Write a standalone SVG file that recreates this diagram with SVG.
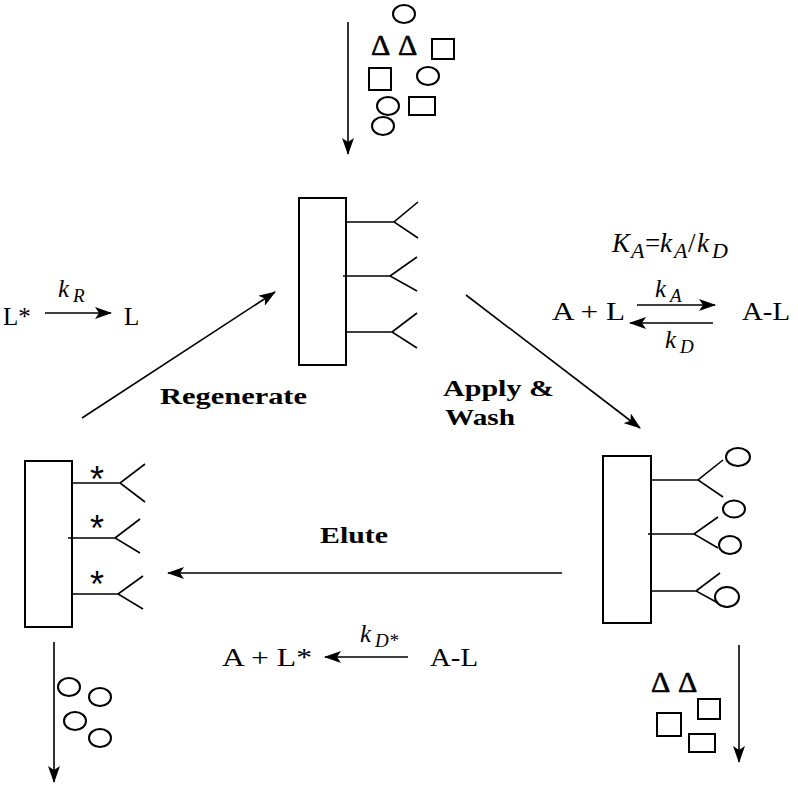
<svg xmlns="http://www.w3.org/2000/svg" width="798" height="788" viewBox="0 0 798 788">
<defs>
<marker id="ah" markerWidth="17" markerHeight="12" refX="16" refY="6" orient="auto" markerUnits="userSpaceOnUse">
<path d="M0,0 L17,6 L0,12 L4,6 Z" fill="#000"/>
</marker>
<style>
.ln{stroke:#000;stroke-width:1.6;fill:none}
.ar{stroke:#000;stroke-width:1.6;fill:none;marker-end:url(#ah)}
.box{stroke:#000;stroke-width:2;fill:#fff}
.sh{stroke:#000;stroke-width:2;fill:none}
.t{font-family:"Liberation Serif","Times New Roman",serif;font-size:25px;fill:#000}
.i{font-style:italic}
.s{font-size:19px}
.k{font-size:27px}
.ks{font-size:22px}
.b{font-family:"Liberation Serif","Times New Roman",serif;font-weight:bold;font-size:23px;fill:#000}
.d{font-family:"Liberation Serif","Times New Roman",serif;font-size:30px;fill:#000;stroke:#000;stroke-width:0.6}
.star{font-family:"Liberation Sans",Arial,sans-serif;font-size:36px;fill:#000}
</style>
</defs>
<rect width="798" height="788" fill="#fff"/>

<g id="connectors">
<line class="ar" x1="348" y1="22" x2="348" y2="154"/>
<line class="ar" x1="82" y1="418" x2="275" y2="292"/>
<line class="ar" x1="466" y1="295" x2="640" y2="428"/>
<line class="ar" x1="562" y1="573" x2="168" y2="573"/>
<line class="ar" x1="54" y1="642" x2="54" y2="782"/>
<line class="ar" x1="739" y1="645" x2="739" y2="762"/>
</g>

<g id="feed-mixture">
<ellipse class="sh" cx="404" cy="14" rx="11" ry="9"/>
<text class="d" x="371" y="55">Δ</text>
<text class="d" x="398" y="55">Δ</text>
<rect class="sh" x="432" y="39" width="22" height="20"/>
<rect class="sh" x="369" y="68" width="22" height="22"/>
<ellipse class="sh" cx="428" cy="76" rx="11" ry="9"/>
<ellipse class="sh" cx="388" cy="106" rx="11" ry="9"/>
<rect class="sh" x="409" y="97" width="26" height="18"/>
<ellipse class="sh" cx="383" cy="126" rx="11" ry="9"/>
</g>

<g id="column-top">
<rect class="box" x="299" y="198" width="47" height="167"/>
<path class="ln" d="M346,222 H394 M418,202 L394,222 L418,238"/>
<path class="ln" d="M343,276 H390 M417,257 L390,276 L417,291"/>
<path class="ln" d="M346,332 H392 M417,313 L392,332 L417,348"/>
</g>

<g id="column-right">
<rect class="box" x="603" y="456" width="48" height="167"/>
<path class="ln" d="M651,480 H698 M723,460 L698,480 L723,497"/>
<path class="ln" d="M648,534 H694 M718,517 L694,534 L718,548"/>
<path class="ln" d="M651,591 H696 M720,573 L696,591 L718,603"/>
<ellipse class="sh" cx="738" cy="457" rx="12" ry="9"/>
<ellipse class="sh" cx="734" cy="509" rx="11" ry="8.5"/>
<ellipse class="sh" cx="730" cy="545" rx="11" ry="9"/>
<ellipse class="sh" cx="727" cy="597" rx="12" ry="10"/>
</g>

<g id="column-left">
<rect class="box" x="25" y="461" width="47" height="166"/>
<path class="ln" d="M72,483 H120 M145,464 L120,483 L145,502"/>
<path class="ln" d="M68,538 H115 M140,519 L115,538 L140,553"/>
<path class="ln" d="M72,594 H118 M143,576 L118,594 L143,609"/>
<text class="star" x="90" y="492">*</text>
<text class="star" x="90" y="541">*</text>
<text class="star" x="90" y="597">*</text>
</g>

<g id="eluate">
<ellipse class="sh" cx="69" cy="687" rx="11" ry="9"/>
<ellipse class="sh" cx="100" cy="697" rx="11" ry="9"/>
<ellipse class="sh" cx="75" cy="721" rx="11" ry="9"/>
<ellipse class="sh" cx="100" cy="738" rx="11" ry="9"/>
</g>

<g id="wash-out">
<text class="d" x="651" y="692">Δ</text>
<text class="d" x="678" y="692">Δ</text>
<rect class="sh" x="698" y="699" width="22" height="20"/>
<rect class="sh" x="657" y="713" width="24" height="23"/>
<rect class="sh" x="689" y="734" width="26" height="18"/>
</g>

<g id="labels">
<text class="b" x="160" y="404" textLength="147" lengthAdjust="spacingAndGlyphs">Regenerate</text>
<text class="b" x="443" y="396" textLength="111" lengthAdjust="spacingAndGlyphs">Apply &amp;</text>
<text class="b" x="445" y="425" textLength="70" lengthAdjust="spacingAndGlyphs">Wash</text>
<text class="b" x="320" y="543" textLength="68" lengthAdjust="spacingAndGlyphs">Elute</text>
</g>

<g id="eq-regenerate">
<text class="t" x="3" y="325">L*</text>
<text class="t i" x="58" y="297">k</text>
<text class="t i s" x="73" y="302">R</text>
<line class="ar" x1="45" y1="313" x2="111" y2="313"/>
<text class="t" x="124" y="325">L</text>
</g>

<g id="eq-binding">
<text class="t k"><tspan class="i" x="612" y="252">K</tspan><tspan class="i ks" x="631" y="258">A</tspan><tspan x="645" y="252">=</tspan><tspan class="i" x="660" y="252">k</tspan><tspan class="i ks" x="674" y="258">A</tspan><tspan x="688" y="252">/</tspan><tspan class="i" x="697" y="252">k</tspan><tspan class="i ks" x="712" y="258">D</tspan></text>
<text class="t" x="552" y="320" textLength="73" lengthAdjust="spacingAndGlyphs">A + L</text>
<text class="t" x="742" y="320" textLength="48" lengthAdjust="spacingAndGlyphs">A-L</text>
<text class="t i" x="655" y="297">k</text>
<text class="t i s" x="670" y="302">A</text>
<line class="ar" x1="637" y1="305" x2="715" y2="305"/>
<line class="ar" x1="713" y1="323" x2="630" y2="323"/>
<text class="t i" x="665" y="348">k</text>
<text class="t i s" x="680" y="353">D</text>
</g>

<g id="eq-elute">
<text class="t" x="222" y="666" textLength="90" lengthAdjust="spacingAndGlyphs">A + L*</text>
<text class="t i" x="360" y="642">k</text>
<text class="t i s" x="375" y="647">D*</text>
<line class="ar" x1="408" y1="657" x2="325" y2="657"/>
<text class="t" x="430" y="666" textLength="48" lengthAdjust="spacingAndGlyphs">A-L</text>
</g>
</svg>
